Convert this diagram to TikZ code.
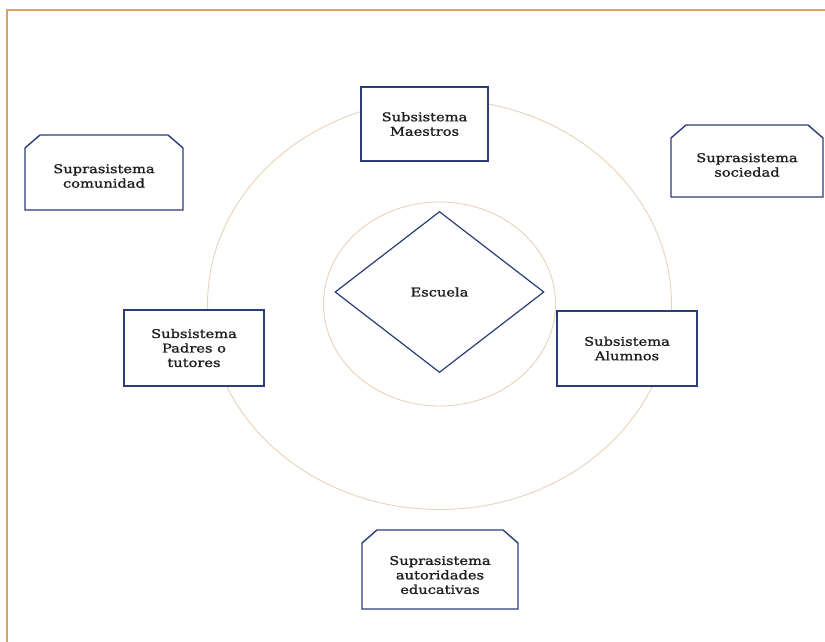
\documentclass[tikz,border=0pt]{standalone}
\usepackage{fontspec}
\setmainfont{DejaVu Serif}[FakeStretch=1.22, FakeBold=1.3]
\usetikzlibrary{shapes.geometric}
\definecolor{frameC}{HTML}{D6A45E}
\definecolor{ringC}{HTML}{E8D2B8}
\definecolor{navyC}{HTML}{2A3D78}
\definecolor{txtC}{HTML}{1E1E1E}
\begin{document}
\begin{tikzpicture}[x=1pt,y=1pt,
  txt/.style={font=\fontsize{12}{14.5}\selectfont, text=txtC, align=center},
  sbox/.style={txt, draw=navyC, line width=1.4pt, fill=white, inner sep=0pt},
  supra/.style={txt, inner sep=0pt},
  border/.style={draw=navyC, line width=1.4pt, fill=white, line join=miter},
  ring/.style={draw=ringC, line width=0.9pt},
  frame/.style={draw=frameC, line width=1.3pt}
]
\useasboundingbox (0,0) rectangle (825,-642);
\fill[white] (0,0) rectangle (825,-642);
\draw[frame] (7,-642) -- (7,-10) -- (825,-10);
% rings
\draw[ring] (439.5,-304.5) ellipse [x radius=232, y radius=205];
\draw[ring] (439.5,-304) ellipse [x radius=116, y radius=102];
% center diamond
\node[diamond, draw=navyC, line width=1.2pt, aspect=1.3, minimum width=209pt, minimum height=161pt, inner sep=0pt, txt] (esc) at (439.5,-292) {Escuela};
% subsystems
\node[sbox, minimum width=127pt, minimum height=74pt] (mae) at (424.5,-124) {Subsistema\\Maestros};
\node[sbox, minimum width=140pt, minimum height=76pt] (pad) at (194,-348) {Subsistema\\Padres o\\tutores};
\node[sbox, minimum width=140pt, minimum height=75pt] (alu) at (627,-348.5) {Subsistema\\Alumnos};
% suprasystems: chamfered boxes
\coordinate (comc) at (104,-176);
\draw[border] ([shift={(-79,-34)}]comc) -- ([shift={(-79,28)}]comc) -- ([shift={(-64,41)}]comc) -- ([shift={(64,41)}]comc) -- ([shift={(79,28)}]comc) -- ([shift={(79,-34)}]comc) -- cycle;
\node[supra] (com) at (comc) {Suprasistema\\comunidad};
\coordinate (socc) at (747,-165);
\draw[border] ([shift={(-76,-32)}]socc) -- ([shift={(-76,27)}]socc) -- ([shift={(-61,40)}]socc) -- ([shift={(61,40)}]socc) -- ([shift={(76,27)}]socc) -- ([shift={(76,-32)}]socc) -- cycle;
\node[supra] (soc) at (socc) {Suprasistema\\sociedad};
\coordinate (autc) at (440,-575);
\draw[border] ([shift={(-78,-34)}]autc) -- ([shift={(-78,32)}]autc) -- ([shift={(-63,45)}]autc) -- ([shift={(63,45)}]autc) -- ([shift={(78,32)}]autc) -- ([shift={(78,-34)}]autc) -- cycle;
\node[supra] (aut) at (autc) {Suprasistema\\autoridades\\educativas};
\end{tikzpicture}
\end{document}
